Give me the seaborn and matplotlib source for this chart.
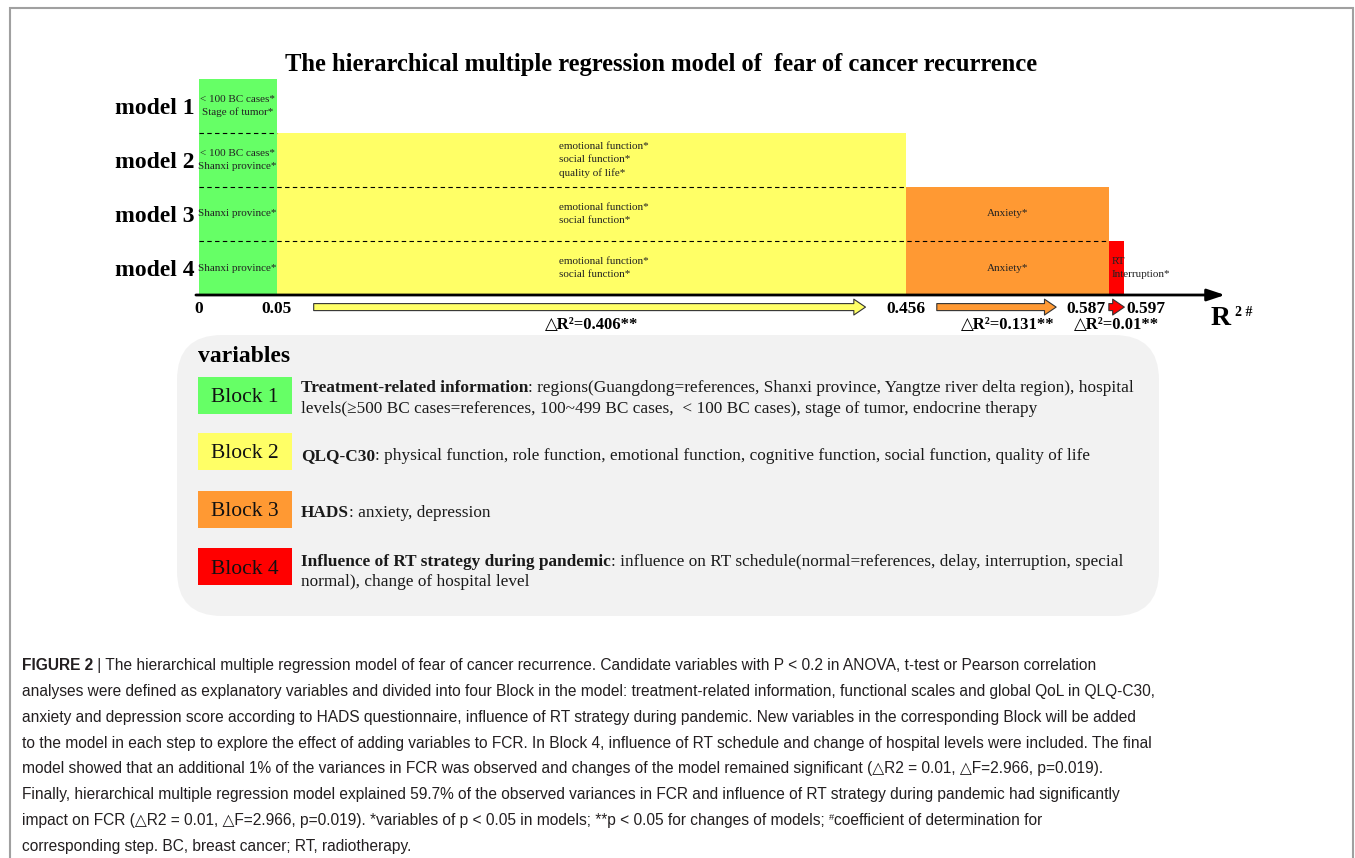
import numpy as np
import pandas as pd
import matplotlib
matplotlib.use("Agg")
import matplotlib.pyplot as plt
import seaborn as sns
from matplotlib.patches import FancyBboxPatch, Rectangle
from matplotlib.transforms import IdentityTransform
from matplotlib import font_manager

# ---- data ----
models = ["model 1", "model 2", "model 3", "model 4"]
blocks = ["Block 1", "Block 2", "Block 3", "Block 4"]
block_colors = ["#66FF66", "#FFFF66", "#FF9933", "#FF0000"]
r2_cum = [0.05, 0.456, 0.587, 0.597]
r2_tick_labels = ["0", "0.05", "0.456", "0.587", "0.597"]
delta_r2 = ["0.406**", "0.131**", "0.01**"]

# significant variables inside the bars (model index, block index, text)
sig_model = [0, 1, 1, 2, 2, 2, 3, 3, 3, 3]
sig_block = [0, 0, 1, 0, 1, 2, 0, 1, 2, 3]
sig_text = ["< 100 BC cases*\nStage of tumor*",
            "< 100 BC cases*\nShanxi province*",
            "emotional function*\nsocial function*\nquality of life*",
            "Shanxi province*",
            "emotional function*\nsocial function*",
            "Anxiety*",
            "Shanxi province*",
            "emotional function*\nsocial function*",
            "Anxiety*",
            "RT\nInterruption*"]

block_heads = ["Treatment-related information", "QLQ-C30", "HADS",
               "Influence of RT strategy during pandemic"]
block_desc = [
    [": regions(Guangdong=references, Shanxi province, Yangtze river delta region), hospital",
     "levels(\u2265500 BC cases=references, 100~499 BC cases,  < 100 BC cases), stage of tumor, endocrine therapy"],
    [": physical function, role function, emotional function, cognitive function, social function, quality of life"],
    [": anxiety, depression"],
    [": influence on RT schedule(normal=references, delay, interruption, special",
     "normal), change of hospital level"],
]

caption_lines = [
    " | The hierarchical multiple regression model of fear of cancer recurrence. Candidate variables with P < 0.2 in ANOVA, t-test or Pearson correlation",
    "analyses were defined as explanatory variables and divided into four Block in the model: treatment-related information, functional scales and global QoL in QLQ-C30,",
    "anxiety and depression score according to HADS questionnaire, influence of RT strategy during pandemic. New variables in the corresponding Block will be added",
    "to the model in each step to explore the effect of adding variables to FCR. In Block 4, influence of RT schedule and change of hospital levels were included. The final",
    "model showed that an additional 1% of the variances in FCR was observed and changes of the model remained significant (\u25b3R2 = 0.01, \u25b3F=2.966, p=0.019).",
    "Finally, hierarchical multiple regression model explained 59.7% of the observed variances in FCR and influence of RT strategy during pandemic had significantly",
    "impact on FCR (\u25b3R2 = 0.01, \u25b3F=2.966, p=0.019). *variables of p < 0.05 in models; **p < 0.05 for changes of models; ",
    "corresponding step. BC, breast cancer; RT, radiotherapy.",
]

# ---- style ----
sns.set_theme(style="white")
serif = ["Liberation Serif", "DejaVu Serif"]
installed = {f.name for f in font_manager.fontManager.ttflist}
if "Liberation Sans Narrow" in installed:
    cap_font, cap_fs = ["Liberation Sans Narrow", "DejaVu Sans"], 13.6
else:
    cap_font, cap_fs = ["Liberation Sans", "DejaVu Sans"], 11.2
plt.rcParams["font.family"] = serif
plt.rcParams["text.color"] = "black"
plt.rcParams["ytick.color"] = "black"

W, H = 1355, 858
fig = plt.figure(figsize=(W / 100, H / 100), dpi=100)
fig.patch.set_facecolor("white")
ID = IdentityTransform()

# outer frame
fig.add_artist(Rectangle((9.5, -20), 1343, H - 8 + 20, fill=False, ec="#a0a0a0",
                         lw=1.5, transform=ID))

# ---- main chart ----
px_per_unit = 1550
ax = fig.add_axes([199 / W, 1 - 295 / H, (1225 - 199) / W, (295 - 79) / H])
for k in reversed(range(4)):
    d = pd.DataFrame({"model": models[k:], "r2": r2_cum[k]})
    sns.barplot(data=d, x="r2", y="model", order=models, orient="h",
                color=block_colors[k], saturation=1, width=1.0, linewidth=0,
                errorbar=None, ax=ax)
ax.set_xlim(0, (1225 - 199) / px_per_unit)
ax.set_ylim(3.5, -0.5)
ax.set_xlabel("")
ax.set_ylabel("")
ax.set_xticks([])
ax.set_yticks(range(4))
ax.set_yticklabels(models, fontsize=17, fontweight="bold", family=serif, color="black")
ax.tick_params(axis="y", length=0, pad=3)
for s in ax.spines.values():
    s.set_visible(False)
ax.patch.set_alpha(0)

# dashed separators between models
ax.hlines([0.5, 1.5, 2.5], 0, r2_cum[:3], colors="black",
          linestyles=(0, (4, 3)), lw=0.8)

# variables inside bars
for m, b, t in zip(sig_model, sig_block, sig_text):
    x0 = 0 if b == 0 else r2_cum[b - 1]
    x1 = r2_cum[b]
    if b == 3:
        ax.text(x0 + 0.002, m, t, ha="left", va="center", fontsize=8,
                color="#222222", clip_on=False, linespacing=1.5)
    elif b == 1:
        ax.text((x0 + x1) / 2 + 0.008, m, t, ha="center", va="center", fontsize=8,
                multialignment="left", color="#222222", linespacing=1.5)
    else:
        ax.text((x0 + x1) / 2, m, t, ha="center", va="center", fontsize=8,
                color="#222222", linespacing=1.5)

# x axis arrow
ax.annotate("", xy=(1.0, 0), xytext=(-0.003, 0), xycoords="axes fraction",
            arrowprops=dict(arrowstyle="-|>,head_length=0.9,head_width=0.3",
                            lw=2, color="black", shrinkA=0, shrinkB=0),
            annotation_clip=False)

# R2 tick labels
xt = ax.get_xaxis_transform()
for val, lab in zip([0] + r2_cum, r2_tick_labels):
    ha, dx = "center", 0
    if lab == "0.587":
        ha, dx = "right", -3
    elif lab == "0.597":
        ha, dx = "left", 2
    ax.annotate(lab, xy=(val, -0.065), xycoords=xt, xytext=(dx, 0),
                textcoords="offset pixels", ha=ha, va="center", fontsize=12.5,
                fontweight="bold", annotation_clip=False)

# delta R2 arrows and labels
gaps = [(0.024, 0.026), (0.02, 0.034), (0.0, 0.0)]
for k in range(1, 4):
    g0, g1 = gaps[k - 1]
    x0, x1 = r2_cum[k - 1] + g0, r2_cum[k] - g1
    ax.annotate("", xy=(x1, -0.056), xytext=(x0, -0.056), xycoords=xt,
                arrowprops=dict(arrowstyle="simple,head_width=0.95,head_length=0.7,tail_width=0.42",
                                fc=block_colors[k], ec="#333333", lw=0.8,
                                shrinkA=0, shrinkB=0),
                annotation_clip=False)
    ax.text((r2_cum[k - 1] + r2_cum[k]) / 2, -0.14, "\u25b3R\u00b2=" + delta_r2[k - 1],
            transform=xt, ha="center", va="center", fontsize=12,
            fontweight="bold", clip_on=False)

# title and axis name
fig.text(661 / W, 1 - 64 / H,
         "The hierarchical multiple regression model of  fear of cancer recurrence",
         ha="center", va="center", fontsize=17.7, fontweight="bold")
fig.text(1211, H - 325, "R", transform=ID, fontsize=20, fontweight="bold", va="baseline")
fig.text(1235, H - 316, "2 #", transform=ID, fontsize=10, fontweight="bold", va="baseline")

# ---- variables panel ----
fig.add_artist(FancyBboxPatch((177, H - 616), 1159 - 177, 616 - 335,
                              boxstyle="round,pad=0,rounding_size=45",
                              fc="#F2F2F2", ec="none", transform=ID, zorder=0))
fig.text(198, H - 357, "variables", transform=ID, fontsize=17, fontweight="bold",
         va="center")

renderer = fig.canvas.get_renderer()


def rich(x, y_base, parts, family, color):
    # parts: (text, weight, size, raise)
    for txt, wt, fs, dy in parts:
        t = fig.text(x, H - y_base + dy, txt, transform=ID, fontsize=fs,
                     fontweight=wt, family=family, va="baseline", color=color)
        x = t.get_window_extent(renderer=renderer).x1


box_tops = [377, 433, 491, 548]
desc_base = [[392, 413], [460], [517], [566, 586]]
desc_fs = 12.45
for k in range(4):
    top = box_tops[k]
    fig.add_artist(Rectangle((198, H - top - 37), 94, 37, fc=block_colors[k],
                             ec="none", transform=ID))
    fig.text(245, H - top - 21, blocks[k], transform=ID, ha="center",
             va="center", fontsize=15.5, color="#111111")
    lines = block_desc[k]
    rich(301, desc_base[k][0], [(block_heads[k], "bold", desc_fs, 0),
                                (lines[0], "normal", desc_fs, 0)], serif, "#1a1a1a")
    for ln, yb in zip(lines[1:], desc_base[k][1:]):
        rich(301, yb, [(ln, "normal", desc_fs, 0)], serif, "#1a1a1a")

# ---- caption ----
cap_color = "#231f20"
for i, ln in enumerate(caption_lines):
    yb = 670 + 25.85 * i
    if i == 0:
        rich(22, yb, [("FIGURE 2", "bold", cap_fs, 0), (ln, "normal", cap_fs, 0)],
             cap_font, cap_color)
    elif i == 6:
        rich(22, yb, [(ln, "normal", cap_fs, 0), ("#", "normal", cap_fs * 0.6, 5),
                      ("coefficient of determination for", "normal", cap_fs, 0)],
             cap_font, cap_color)
    else:
        rich(22, yb, [(ln, "normal", cap_fs, 0)], cap_font, cap_color)

fig.savefig("out.png", dpi=100)
